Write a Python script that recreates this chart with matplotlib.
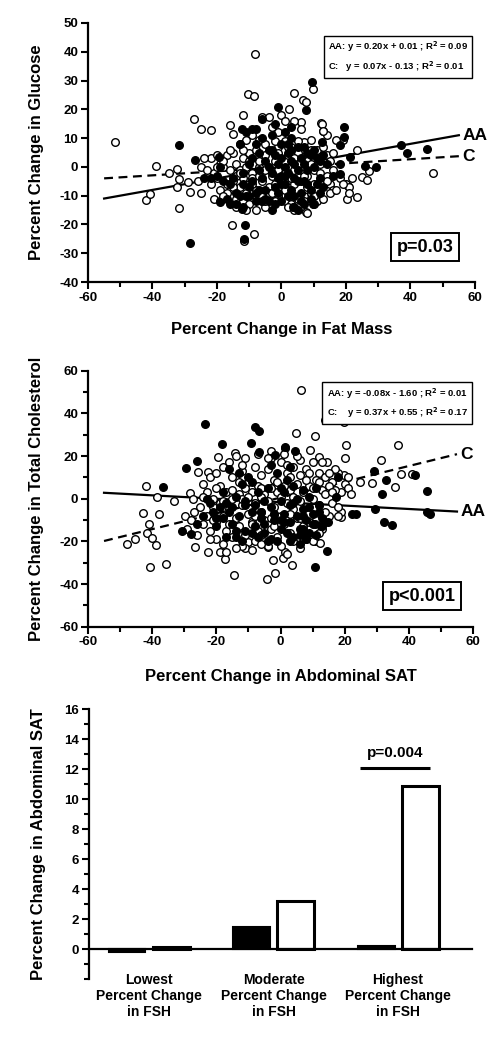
import matplotlib
matplotlib.use("Agg")
import matplotlib.pyplot as plt
from matplotlib.ticker import MultipleLocator
import numpy as np

plt.rcParams['font.family'] = ['Liberation Sans', 'DejaVu Sans']
plt.rcParams['font.weight'] = 'bold'
plt.rcParams['axes.unicode_minus'] = False

# ---------------- Panel 1: glucose vs fat mass ----------------
p1_open_x = [-51.7, -39.0, -42.0, -40.8, -31.9, -32.4, -31.7, -32.4, -35.0, -29.0, -28.5, -27.2, -24.9, -21.9,
             -8.2, -10.4, -8.5, -11.8, -15.4, -8.6, -11.6, 3.8, 9.9, 6.8, 2.2, 47.1, 23.3, 23.3, 20.2, 20.5,
             25.0, 26.5, 27.0, 7.6, 19.2, 12.2, 12.8, 7.5,
             -16, -15, -6, -4, 0, 1, -1, 6, 6, 12.5, 4, -3, -9, -7, 14, 13,
             -22, -20, -17, -15, -13, -11, -10, -8, -5, -3, -1, 1, 3, 5, 7, 9, 11, 14, 16, 17,
             -24, -19, -14, -12, -6, -2, 2, 4, 8, 10, 12, 15,
             -25, -23, -21, -18, -16, -13, -11, -9, -7, -5, -3, -1, 1, 3, 6, 8, 10, 12, 14, 16, 18, 20, 21,
             -26, -25, -22, -20, -19, -17, -15, -13, -12, -10, -8, -6, -4, -2, 0, 2, 4, 6, 8, 10, 12, 15,
             16, 19, 21, 22,
             -21, -19, -16, -14, -12, -10, -8, -6, -4, -1, 1, 3, 5, 7, 9, 11, 13, 15, 17,
             -14, -11, -8, 2, 4, 8, -5,
             -18, -16, -14, -12, -10, -9, -7, -5, -4, -2, 0, 2, 3, 5, 7, 9, 11, 13,
             -17, -15, -13, -11, -9, -7, -5, -3, -1, 1, 3, 5, 7, 9, 11,
             -20, -18, -6, -2, 4, 10, 14]
p1_open_y = [8.6, 0.3, -11.4, -9.3, -14.3, -0.9, -4.3, -7.0, -2.0, -5.2, -8.7, 16.5, 13.0, 12.8,
             39.3, 25.4, 24.5, 18.0, -20.3, -23.4, -25.8, 25.7, 27.0, 23.4, 20.2, -2.0, 5.8, -10.5, -11.0, -6.5,
             -3.5, -4.5, -1.5, -15.7, 9.5, 15.4, 12.5, 22.5,
             14.5, 11.5, 17.5, 17.5, 18, 16, 12, 15.5, 13, 15, 16, 14, 11, 9.5, 11, 12.5,
             3, 4, 4, 5, 8, 9.5, 5, 6, 8, 5.5, 7, 9, 7, 5, 8.5, 9.5, 6, 4, 5, 9.5,
             3, 1, 1, 3, 3, 2, 4, 3, 2, 3, 1, 2,
             0, -1, -2, 0, -1, -1, 0, -2, 0, -1, -3, -1, -2, 0, -1, -3, -1, -2, -3, -1, -4, -6, -7,
             -5, -9, -6, -4, -8, -6, -5, -7, -4, -6, -8, -5, -7, -6, -5, -8, -6, -5, -7, -6, -5, -6,
             -8, -6, -9, -4,
             -11, -12, -10, -11, -12, -13, -10, -12, -11, -10, -12, -13, -11, -10, -9, -12, -11, -9, -8,
             -14, -15, -15, -14, -15, -16, -14,
             2, 6, -3, 6, 2, -4, -3, 4, -9, 9, -7, 7, -10, 1, -3, 6, -9, 7,
             -9, -7, -2, -9, -6, 2, -12, -9, 5, -8, -4, 9, -12, 1, -8,
             0, -10, -10, -12, -1, -10, -5]
p1_fill_x = [-31.7, -28.3, -11.3, -11.5, 9.5, -1.1, 7.5, 19.3, 19.3, 18.2, 37.0, 39.0, 45.0, 25.9, 29.3,
             21.3, 18.0, -26.7, -24.0, -19.5, -19.0, -12.3, -8.0, -6.1, -12.3, 9.9, 3.7, 12.5, 18.2,
             -20, -18, -17, -15, -14, -13, -12, -11, -11, -10, -9, -8, -8, -7, -6, -6, -5, -5, -4, -4,
             -3, -3, -2, -2, -1, -1, 0, 0, 0, 1, 1, 1, 2, 2, 2, 3, 3, 3, 4, 4, 4, 5, 5, 6, 6, 7, 7, 8, 8,
             9, 9, 10, 10, 11, 12, 12, 13, 14, 16, -16, -10, -7, -13, -19, -22, -2, 3, 7, 10, -12, -9,
             0, 5, -3, -6,
             -16, -12, -9, -7, -5, -3, -1, 1, 3, 5, 7, 9, 11, 13, -14, -10, -4, 0, 2, 6, 8, 12, -8, -2, 4]
p1_fill_y = [7.5, -26.3, -20.3, -25.2, 29.5, 20.8, 19.7, 13.9, 10.4, 7.7, 7.5, 5.0, 6.1, 0.3, 0.0,
             3.4, 1.1, 2.3, -4.0, 3.4, -12.2, 13.0, 13.3, 16.5, -14.5, -12.8, -14.0, 8.6, -2.4,
             -3, -5, -11, -4, -9, 8, -2, 12, -10, -7, 3, -9, -12, 5, -4, 10, 2, -8, 0, 6,
             -2, 11, 4, -7, 1, -9, 3, -3, 8, 0, -6, 12, 5, -2, -10, 2, -8, 10, -4, 1, -14, -1, 7, 3, -9,
             -5, 1, 5, -1, 4, -8, 6, 0, -6, 2, -4, -7, 1, -3, -13, -10, -8, -10, 0, -4, 15, 14, -13, -13,
             -14, 13, -12, -15, -15, -12,
             -6, -6, -5, -1, -11, 6, -4, -3, 6, -5, 7, -11, 3, 4, -13, 1, -12, -6, 8, -12, -6, -9, 8, -13, -10]
p1_aa_eq = (0.20, 0.01)
p1_c_eq = (0.07, -0.13)

# ---------------- Panel 2: cholesterol vs abdominal SAT ----------------
p2_open_x = [6.5, 14.0, 19.7, 4.9, 10.6, 36.6, 20.3, 31.4, 41.0, 37.5, 35.8, 28.5, 24.9, 19.8, 18.8, 19.0,
             -41.8, -38.4, -33.2, -42.9, -38.0, -40.9, -41.5, -40.0, -38.7, -45.5, -47.7, -40.6, -35.6,
             -29.8, -28.3, -27.3, -26.5, -22.6, -19.0, -17.4, -14.5, -4.1, -1.8, -2.2, 0.9, 3.7, 1.3,
             10.6, 12.2, -25.7, -22.6, -19.5, -14.3, -2.9, 1.3, 9.1, 12.0, 14.5, -10.1, -11.1, -3.9,
             -22, -20, -18, -16, -14, -12, -10, -8, -6, -4, -2, 0, 2, 4, 6, 8, 10, 12, 14, 16, 18, 20,
             19, 17, 15, 13, 11, 9, 7, 5, 3, 1, -1, -3, -5, -7, -9, -11, -13, -15, -17, -19, -21, -23,
             -24, -22, -20, -18, -16, -14, -12, -10, -8, -6, -4, -2, 0, 2, 4, 6, 8, 10, 12, 14, 16, 18,
             -25, -26, -20, -17, -15, -13, -11, -9, -7, -5, -3, -1, 1, 3, 5, 7, 9, 11, 13, 15,
             -12, -8, -4, 0, 4, 8, -18, -23, -19, -15, -11, -7, -3, 1, 5, 9, 13, 17, 20, 21,
             -9, -6, 2, 6, -1, 3, -13, -21, -17, -24, 21, 22, -6, 10, 14, -2, -28, -29, -27,
             -24, -21, -18, -15, -12, -9, -6, -3, 0, 3, 6, 9, 12, 15, 18,
             -20, -16, -12, -8, -4, 0, 4, 8, 12, 16, -22, -14, -6, 2, 10, -10, -2, 6, 14]
p2_open_y = [51.2, 36.9, 35.8, 30.9, 29.5, 25.2, 25.2, 18.1, 11.6, 11.6, 5.6, 7.5, 8.0, 11.0, -8.5, -6.0,
             6.1, 0.6, -0.9, -6.6, -7.2, -11.9, -15.9, -18.3, -21.7, -19.1, -21.3, -31.9, -30.6,
             -8.0, 2.5, -0.3, -22.5, -24.8, -24.8, -28.3, -35.8, -37.8, -35.0, -28.8, -28.0, -31.1, -24.8,
             -19.8, -20.9, 12.7, 12.7, 19.7, 21.3, 22.3, 23.6, 22.8, 19.5, 17.0, -20.2, -23.3, -22.5,
             10, 12, 15, 17, 20, 13, 8, 15, 11, 14, 9, 17, 12, 15, 18, 14, 17, 12, 10, 8, 12, 7,
             3, 4, 6, 4, 9, 6, 3, 7, 4, 6, 3, 5, 2, 6, 3, 5, 2, 0, 3, -2, -4, -8,
             -12, -15, -11, -8, -5, -9, -3, -7, -2, -6, -1, -4, -8, -2, -5, -1, -4, 0, -3, 2, -2, -4,
             -4, -17, -19, -15, -18, -13, -17, -11, -15, -10, -14, -18, -12, -16, -9, -13, -17, -10, -14, -8,
             -22, -20, -22, -22, -20, -19, -21, 3, 6, 10, 19, 21, 19, 21, 20, 12, 17, 14, 19, 10,
             -24, -17, -26, -23, 8, 10, 8, 0, -25, 1, 5, 2, 1, 5, -6, -13, -10, -14, -6,
             7, -10, -1, 4, 0, -12, 5, -9, 1, -7, 11, -11, 8, 12, -8,
             5, -12, 16, -8, 19, -12, 1, 9, -16, 3, -19, -23, -21, 16, -20, 1, -7, -9, -11]
p2_fill_x = [-23.4, -7.8, -6.8, -9.3, -6.8, -18.1, -26.1, -29.6, -36.6, 1.3, 4.4, -1.8, -30.6, -27.8,
             10.6, 14.5, 14.8, 10.9, 12.5, 22.3, 23.6, 29.4, 29.0, 31.7, 32.9, 32.2, 34.9, 42.0, 45.8,
             45.8, 46.7, 17.4, 17.9, 7.0, 7.5,
             -22, -21, -19, -18, -17, -16, -15, -14, -13, -12, -11, -10, -9, -8, -7, -6, -5, -4, -3, -2,
             -1, 0, 0, 1, 1, 2, 2, 3, 3, 4, 4, 5, 5, 6, 7, 7, 8, 9, 9, 10, 11, 12, 13, -7, -11, -1, 6,
             -20, -14, -5, 0, 3, -3, -9, -13, -18, -23, -16, 8, 11, -4, -26, -24,
             -20, -17, -14, -11, -8, -5, -2, 1, 4, 7, 10, 13, -15, -9, -3, 3, 9, -12, -6, 0, 6, 12]
p2_fill_y = [35.0, 33.4, 31.9, 25.9, 22.0, 25.5, 17.8, 14.5, 5.6, 24.4, 22.3, 20.5, -15.0, -16.6,
             -31.9, -24.4, -11.1, -11.9, -13.0, -7.3, -7.3, -5.0, 13.1, 2.2, 9.0, -11.1, -12.3, 11.1, 3.8,
             -6.1, -7.2, 1.0, 10.3, -8.0, -17.0,
             -2, -6, -4, -9, -18, -6, -12, 1, -8, 7, -3, 10, -6, -13, 3, -9, -16, 5, -4, -10,
             12, -1, -14, 3, -7, 9, -16, -3, -11, 6, -18, 0, -8, -14, 4, -5, -10, 1, -16, -7, 5, -3, -13, -18, -15, -20, -21,
             -13, -18, -1, 5, 15, 16, 8, 12, 3, 0, 14, -19, -17, -20, -12, -8,
             -9, -2, -15, -1, -3, -12, -7, -11, -2, -14, -12, -9, -4, -16, -19, -20, -4, -20, -6, -10, -17, -6]
p2_aa_eq = (-0.08, -1.60)
p2_c_eq = (0.37, 0.55)

# ---------------- Panel 3: bars ----------------
groups = ['Lowest\nPercent Change\nin FSH', 'Moderate\nPercent Change\nin FSH', 'Highest\nPercent Change\nin FSH']
aa_bars = [-0.2, 1.5, 0.25]
c_bars = [0.15, 3.2, 10.9]

fig = plt.figure(figsize=(4.88, 10.5), dpi=100)

MS = 30
LW_SP = 1.6
TICK_FS = 9.5
LABEL_FS = 12


def style_scatter_axes(ax):
    for s in ['top', 'right']:
        ax.spines[s].set_visible(False)
    for s in ['left', 'bottom']:
        ax.spines[s].set_linewidth(LW_SP)
    ax.tick_params(which='major', direction='out', length=5, width=1.5, labelsize=TICK_FS, pad=2)
    ax.tick_params(which='minor', direction='out', length=3.5, width=1.5)
    for lab in ax.get_xticklabels() + ax.get_yticklabels():
        lab.set_fontweight('bold')


def scatter_panel(ax, ox, oy, fx, fy, aa_eq, c_eq):
    xs = np.array([-55, 55])
    ax.plot(xs, aa_eq[0] * xs + aa_eq[1], color='black', lw=1.6, zorder=2)
    ax.plot(xs, c_eq[0] * xs + c_eq[1], color='black', lw=1.6, ls=(0, (4, 2.5)), zorder=2)
    ax.scatter(ox, oy, s=MS, facecolor='white', edgecolor='black', linewidth=1.0, zorder=3)
    ax.scatter(fx, fy, s=MS, facecolor='black', edgecolor='black', linewidth=1.0, zorder=4)
    ax.text(56, aa_eq[0] * 55 + aa_eq[1], 'AA', fontsize=12.5, fontweight='bold', va='center', ha='left')
    ax.text(56, c_eq[0] * 55 + c_eq[1], 'C', fontsize=12.5, fontweight='bold', va='center', ha='left')


# Panel 1
ax1 = fig.add_axes([0.1803, 0.7314, 0.793, 0.2467])
scatter_panel(ax1, p1_open_x, p1_open_y, p1_fill_x, p1_fill_y, p1_aa_eq, p1_c_eq)
ax1.set_xlim(-60, 60)
ax1.set_ylim(-40, 50)
ax1.xaxis.set_major_locator(MultipleLocator(20))
ax1.xaxis.set_minor_locator(MultipleLocator(10))
ax1.yaxis.set_major_locator(MultipleLocator(10))
style_scatter_axes(ax1)
ax1.set_xlabel('Percent Change in Fat Mass', fontsize=LABEL_FS, fontweight='bold', labelpad=13)
ax1.set_ylabel('Percent Change in Glucose', fontsize=LABEL_FS, fontweight='bold', labelpad=11)
ax1.text(0.62, 0.935, 'AA: y = 0.20x + 0.01 ; R$^\\mathbf{2}$ = 0.09\nC:   y = 0.07x - 0.13 ; R$^\\mathbf{2}$ = 0.01',
         transform=ax1.transAxes, fontsize=6.8, fontweight='bold', va='top', ha='left', linespacing=1.45,
         bbox=dict(boxstyle='square,pad=0.45', facecolor='white', edgecolor='black', linewidth=1))
ax1.text(0.945, 0.135, 'p=0.03', transform=ax1.transAxes, fontsize=13, fontweight='bold', va='center', ha='right',
         bbox=dict(boxstyle='square,pad=0.3', facecolor='white', edgecolor='black', linewidth=1.4))

# Panel 2
ax2 = fig.add_axes([0.1803, 0.4031, 0.789, 0.2438])
scatter_panel(ax2, p2_open_x, p2_open_y, p2_fill_x, p2_fill_y, p2_aa_eq, p2_c_eq)
ax2.set_xlim(-60, 60)
ax2.set_ylim(-60, 60)
ax2.xaxis.set_major_locator(MultipleLocator(20))
ax2.xaxis.set_minor_locator(MultipleLocator(10))
ax2.yaxis.set_major_locator(MultipleLocator(20))
ax2.yaxis.set_minor_locator(MultipleLocator(10))
style_scatter_axes(ax2)
ax2.set_xlabel('Percent Change in Abdominal SAT', fontsize=LABEL_FS, fontweight='bold', labelpad=15)
ax2.set_ylabel('Percent Change in Total Cholesterol', fontsize=LABEL_FS, fontweight='bold', labelpad=11)
ax2.text(0.62, 0.94, 'AA: y = -0.08x - 1.60 ; R$^\\mathbf{2}$ = 0.01\nC:    y = 0.37x + 0.55 ; R$^\\mathbf{2}$ = 0.17',
         transform=ax2.transAxes, fontsize=6.8, fontweight='bold', va='top', ha='left', linespacing=1.45,
         bbox=dict(boxstyle='square,pad=0.45', facecolor='white', edgecolor='black', linewidth=1))
ax2.text(0.955, 0.12, 'p<0.001', transform=ax2.transAxes, fontsize=13, fontweight='bold', va='center', ha='right',
         bbox=dict(boxstyle='square,pad=0.3', facecolor='white', edgecolor='black', linewidth=1.4))

# Panel 3
ax3 = fig.add_axes([0.1824, 0.0673, 0.785, 0.2571])
xpos = np.arange(len(groups))
bw = 0.297
off = 0.177
ax3.bar(xpos - off, aa_bars, width=bw, color='black', edgecolor='black', linewidth=1.5, zorder=3)
ax3.bar(xpos + off, c_bars, width=bw, color='white', edgecolor='black', linewidth=2.2, zorder=3)
ax3.set_xlim(-0.482, 2.594)
ax3.set_ylim(-2, 16)
ax3.spines['top'].set_visible(False)
ax3.spines['right'].set_visible(False)
ax3.spines['left'].set_linewidth(LW_SP)
ax3.spines['bottom'].set_linewidth(LW_SP)
ax3.spines['bottom'].set_position(('data', 0))
ax3.spines['bottom'].set_zorder(5)
ax3.set_xticks([])
ax3.set_yticks(np.arange(0, 17, 2))
ax3.set_yticks([-2, -1, 1, 3, 5, 7, 9, 11, 13, 15], minor=True)
ax3.tick_params(which='major', direction='out', length=5, width=1.5, labelsize=TICK_FS, pad=2)
ax3.tick_params(which='minor', direction='out', length=3.5, width=1.5)
for lab in ax3.get_yticklabels():
    lab.set_fontweight('bold')
ax3.set_ylabel('Percent Change in Abdominal SAT', fontsize=LABEL_FS, fontweight='bold', labelpad=13)
for i, g in enumerate(groups):
    ax3.text(xpos[i], -1.6, g, ha='center', va='top', fontsize=10, fontweight='bold', linespacing=1.15)
ax3.plot([1.695, 2.257], [12.1, 12.1], color='black', lw=2.2, solid_capstyle='butt')
ax3.text(1.976, 12.65, 'p=0.004', ha='center', va='bottom', fontsize=11, fontweight='bold')

fig.savefig('out.png', dpi=100)
